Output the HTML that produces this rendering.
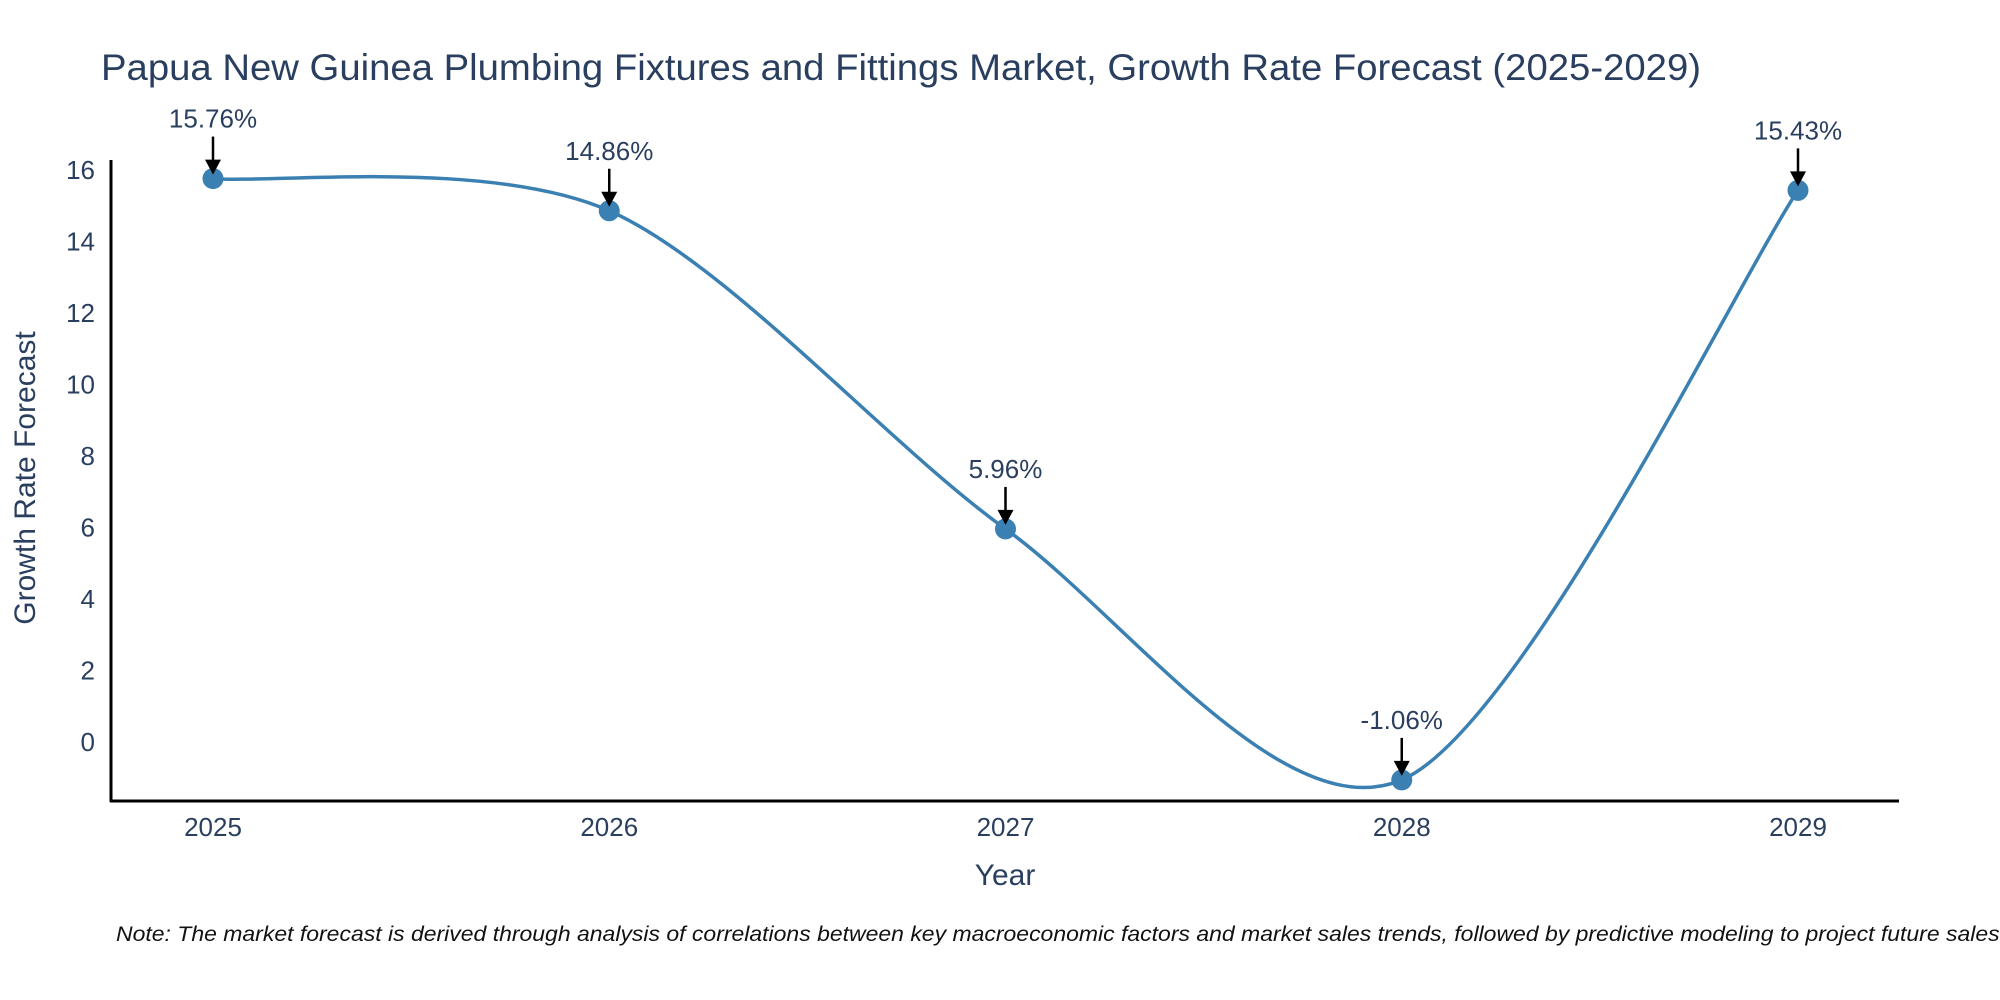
<!DOCTYPE html>
<html><head><meta charset="utf-8"><style>
html,body{margin:0;padding:0;background:#fff;}
svg{display:block;font-family:"Liberation Sans",sans-serif;}
</style></head><body>
<svg id="chart" width="2000" height="1000">
<text x="101" y="80" font-size="37" fill="#2a3f5f" textLength="1600" lengthAdjust="spacingAndGlyphs">Papua New Guinea Plumbing Fixtures and Fittings Market, Growth Rate Forecast (2025-2029)</text>
<g id="yticks"></g>
<g id="xticks"></g>
<line x1="111" y1="160" x2="111" y2="802" stroke="#000" stroke-width="3"/>
<line x1="110" y1="801" x2="1899" y2="801" stroke="#000" stroke-width="3"/>
<text x="1005" y="885" font-size="30" fill="#2a3f5f" text-anchor="middle">Year</text>
<text transform="translate(35,478) rotate(-90)" font-size="30" fill="#2a3f5f" text-anchor="middle">Growth Rate Forecast</text>
<path id="line" fill="none" stroke="#3b80b2" stroke-width="3.5"/>
<g id="marks"></g>
<text x="116" y="941" font-size="21" font-style="italic" fill="#111" textLength="1890" lengthAdjust="spacingAndGlyphs">Note: The market forecast is derived through analysis of correlations between key macroeconomic factors and market sales trends, followed by predictive modeling to project future sales.</text>
</svg>
<script>
const years = ["2025","2026","2027","2028","2029"];
const values = [15.76, 14.86, 5.96, -1.06, 15.43];
const yTicks = [0,2,4,6,8,10,12,14,16];
const NS = "http://www.w3.org/2000/svg";
function xs(i){ return 213 + i*396.25; }
function ys(v){ return 742 - v*35.75; }
function mk(tag, attrs, parent){ const e=document.createElementNS(NS,tag); for(const k in attrs) e.setAttribute(k,attrs[k]); parent.appendChild(e); return e; }
const yt=document.getElementById('yticks');
yTicks.forEach(t=>{
  const e=mk('text',{x:95,y:ys(t)+9,'font-size':26,fill:'#2a3f5f','text-anchor':'end'},yt);
  
  
  e.textContent=t;
});
const xt=document.getElementById('xticks');
years.forEach((y,i)=>{
  const e=mk('text',{x:xs(i),y:836,'font-size':26,fill:'#2a3f5f','text-anchor':'middle'},xt);
  
  
  e.textContent=y;
});
const pts=values.map((v,i)=>[xs(i),ys(v)]);
let d=`M${pts[0][0]},${pts[0][1]}`;
const s=0.15;
for(let i=0;i<pts.length-1;i++){
  const p0=pts[Math.max(0,i-1)],p1=pts[i],p2=pts[i+1],p3=pts[Math.min(pts.length-1,i+2)];
  const c1=[p1[0]+(p2[0]-p0[0])*s,p1[1]+(p2[1]-p0[1])*s];
  const c2=[p2[0]-(p3[0]-p1[0])*s,p2[1]-(p3[1]-p1[1])*s];
  d+=` C${c1[0]},${c1[1]} ${c2[0]},${c2[1]} ${p2[0]},${p2[1]}`;
}
document.getElementById('line').setAttribute('d',d);
const g=document.getElementById('marks');
values.forEach((v,i)=>{
  const x=xs(i),y=ys(v);
  const c=mk('circle',{cx:x,cy:y,r:10.5,fill:'#3b80b2'},g);
  
  
  const a=mk('line',{x1:x,y1:y-42,x2:x,y2:y-18,stroke:'#000','stroke-width':2.5},g);
  
  
  const h=mk('polygon',{points:`${x-8},${y-19} ${x+8},${y-19} ${x},${y-4}`,fill:'#000'},g);
  
  
  const t=mk('text',{x:x,y:y-51,'font-size':26,fill:'#2a3f5f','text-anchor':'middle'},g);
  
  
  t.textContent=v.toFixed(2)+'%';
});
</script>
</body></html>
